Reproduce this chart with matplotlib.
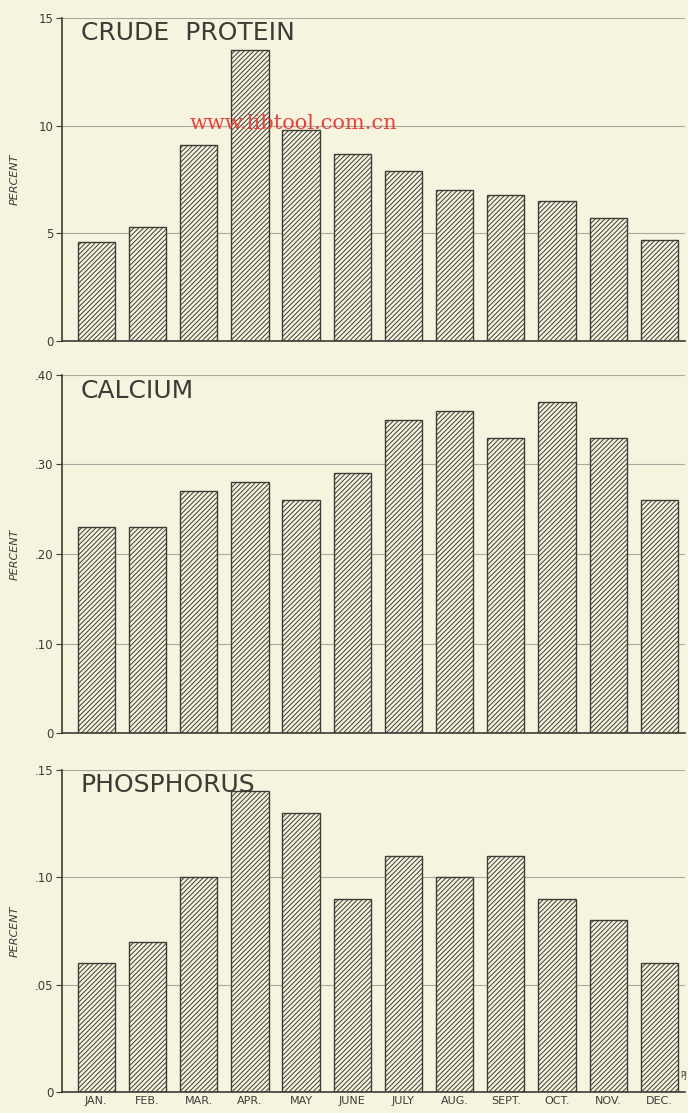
import numpy as np
import matplotlib.pyplot as plt

# 月份和三种成分的百分比
months = ['JAN.', 'FEB.', 'MAR.', 'APR.', 'MAY', 'JUNE', 'JULY', 'AUG.', 'SEPT.', 'OCT.', 'NOV.', 'DEC.']
protein = [4.6, 5.3, 9.1, 13.5, 9.8, 8.7, 7.9, 7.0, 6.8, 6.5, 5.7, 4.7]
calcium = [0.23, 0.23, 0.27, 0.28, 0.26, 0.29, 0.35, 0.36, 0.33, 0.37, 0.33, 0.26]
phosphorus = [0.06, 0.07, 0.10, 0.14, 0.13, 0.09, 0.11, 0.10, 0.11, 0.09, 0.08, 0.06]

protein_ticks = [0, 5, 10, 15]
protein_labels = ['0', '5', '10', '15']
calcium_ticks = [0, 0.10, 0.20, 0.30, 0.40]
calcium_labels = ['0', '.10', '.20', '.30', '.40']
phos_ticks = [0, 0.05, 0.10, 0.15]
phos_labels = ['0', '.05', '.10', '.15']

bg = '#f6f3df'
ink = '#3c3c36'
plt.rcParams['hatch.linewidth'] = 0.7

fig = plt.figure(figsize=(6.88, 11.13), dpi=100, facecolor=bg)

# 每个面板：[左, 下, 宽, 高]
panels = [
    ([0.0901, 0.6936, 0.9055, 0.2902], protein, protein_ticks, protein_labels, 'CRUDE  PROTEIN', 15),
    ([0.0901, 0.3414, 0.9055, 0.3217], calcium, calcium_ticks, calcium_labels, 'CALCIUM', 0.40),
    ([0.0901, 0.0189, 0.9055, 0.2893], phosphorus, phos_ticks, phos_labels, 'PHOSPHORUS', 0.15),
]

x = np.arange(len(months))
for i, (rect, vals, ticks, labels, title, top) in enumerate(panels):
    ax = fig.add_axes(rect, facecolor=bg)
    for t in ticks[1:]:
        ax.axhline(t, color='#aaa9a0', lw=0.8, zorder=0)
    ax.bar(x, vals, width=0.73, facecolor=bg, edgecolor=ink, hatch='/' * 7,
           linewidth=1.0, zorder=2)
    ax.set_xlim(-0.67, 11.5)
    ax.set_ylim(0, top)
    ax.set_yticks(ticks)
    ax.set_yticklabels(labels, fontsize=8.5, color=ink)
    ax.tick_params(axis='y', length=4, width=0.8, color=ink, pad=2)
    ax.spines['top'].set_visible(False)
    ax.spines['right'].set_visible(False)
    ax.spines['left'].set_color(ink)
    ax.spines['bottom'].set_color(ink)
    ax.spines['left'].set_linewidth(1.2)
    ax.spines['bottom'].set_linewidth(1.2)
    ax.text(0.03, 0.99, title, transform=ax.transAxes, fontsize=18, color=ink,
            ha='left', va='top')
    ax.set_ylabel('PERCENT', fontsize=8, style='italic', color=ink)
    ax.yaxis.set_label_coords(-0.068, 0.5)
    if i < 2:
        ax.set_xticks([])
    else:
        ax.set_xticks(x)
        ax.set_xticklabels(months, fontsize=8, color=ink)
        ax.tick_params(axis='x', length=0, pad=3)

fig.text(687 / 688, 1 - 1075 / 1113, 'PJ', fontsize=5.5, color=ink, ha='right', va='center')
fig.text(0.275, 1 - 124 / 1113, 'www.libtool.com.cn', fontsize=15, color='#e8413a',
         family='DejaVu Serif', ha='left', va='center')

fig.savefig('out.png', dpi=100, facecolor=bg)
